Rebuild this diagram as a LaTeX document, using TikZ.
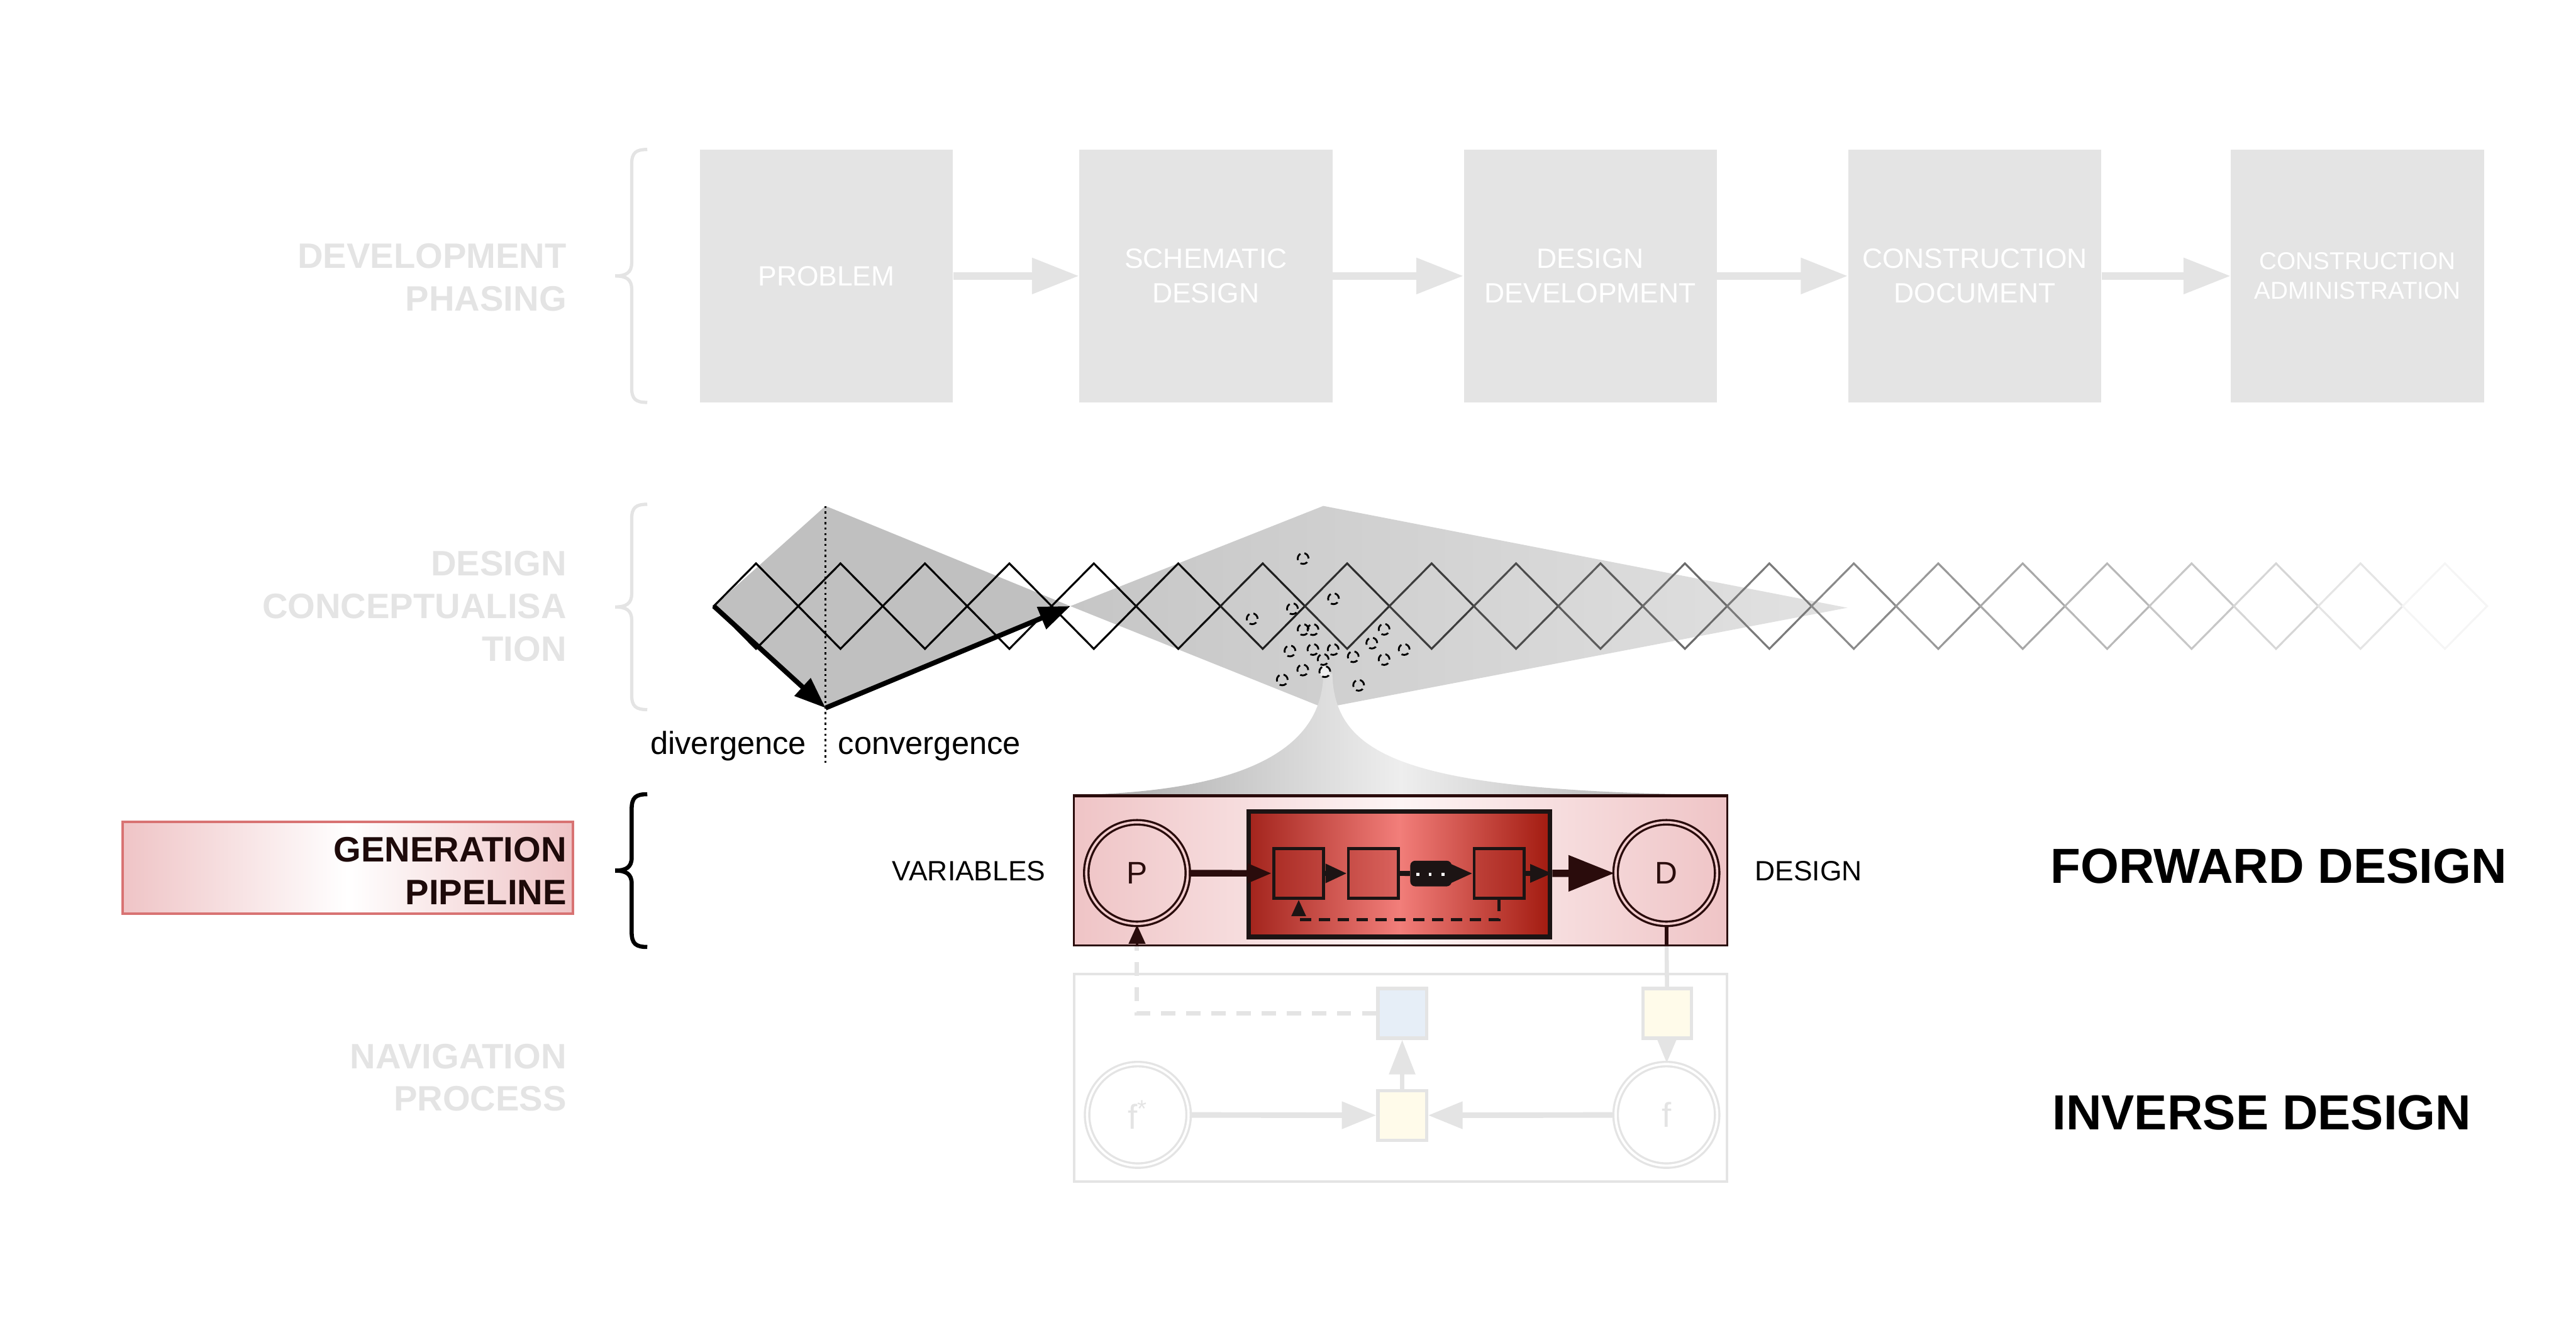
\documentclass[tikz,border=0pt]{standalone}
\usepackage{fontspec}
\setmainfont{Liberation Sans}
\usetikzlibrary{arrows.meta,calc}
\pgfdeclarelayer{bg}
\pgfsetlayers{bg,main}
\definecolor{faint}{HTML}{E4E4E4}
\definecolor{dk}{HTML}{2A0C0C}
\definecolor{pinkE}{HTML}{EFC4C6}
\definecolor{pinkM}{HTML}{FDF4F4}
\definecolor{lblbord}{HTML}{D87373}
\definecolor{redL}{HTML}{A3241C}
\definecolor{redM}{HTML}{F27E7A}
\definecolor{redR}{HTML}{A21B10}
\definecolor{yel}{HTML}{FFFBEA}
\definecolor{blu}{HTML}{E6EEF7}
\definecolor{kiteA}{HTML}{C0C0C0}
\definecolor{kiteL}{HTML}{C6C6C6}
\definecolor{kiteR}{HTML}{E2E2E2}
\definecolor{funE}{HTML}{A6A6A6}
\definecolor{funM}{HTML}{EEEEEE}
\definecolor{pillc}{HTML}{1C1414}
\definecolor{ringgap}{HTML}{F2CDCE}
\definecolor{labdark}{HTML}{1E0A0A}
\newcommand{\mybrace}[3]{%
  \draw[#1] (394,#2) .. controls (387,#2) and (384.5,#2+2) .. (384.5,#2+9)
  -- (384.5,{(#2+#3)/2-8}) .. controls (384.5,{(#2+#3)/2-2}) and (381,{(#2+#3)/2}) .. (374.5,{(#2+#3)/2})
  .. controls (381,{(#2+#3)/2}) and (384.5,{(#2+#3)/2+2}) .. (384.5,{(#2+#3)/2+8})
  -- (384.5,#3-9) .. controls (384.5,#3-2) and (387,#3) .. (394,#3);
}
\tikzset{
  phasebox/.style={rectangle, fill=faint, minimum width=154pt, minimum height=154pt, inner sep=0pt,
    text=white, align=center, font=\fontsize{17}{21}\selectfont},
  phasearrow/.style={draw=faint, line width=4.7pt, -{Triangle[length=28.7pt,width=21pt]}},
  rowlab/.style={anchor=east, align=right, inner sep=0pt, font=\bfseries\fontsize{21.5}{26}\selectfont},
  diam/.style={line width=1.2pt, line join=miter},
  smallc/.style={draw=black, line width=1.1pt, dash pattern=on 4.4pt off 2.5pt},
  bigarrow/.style={line width=3pt, -{Triangle[length=19pt,width=14pt]}},
  ring/.style={circle, minimum size=61.8pt, inner sep=0pt, line width=1.3pt, double distance=1.4pt},
  sqbox/.style={rectangle, minimum width=30.5pt, minimum height=30.3pt, inner sep=0pt, line width=1.8pt, draw=pillc, fill=redL, fill opacity=0.3, text opacity=1},
  navsq/.style={rectangle, minimum width=29.5pt, minimum height=30.3pt, inner sep=0pt, line width=2pt, draw=faint},
  plain/.style={inner sep=0pt},
}
\begin{document}
\begin{tikzpicture}[x=1pt,y=-1pt]
\useasboundingbox (0,0) rectangle (1568,802);

% ---------- row 1: development phasing ----------
\node[rowlab, text=faint] (r1) at (345,169) {DEVELOPMENT\\PHASING};
\mybrace{faint, line width=2pt}{91}{245}
\node[phasebox] (p1) at (503,168) {PROBLEM};
\node[phasebox] (p2) at (734,168) {SCHEMATIC\\DESIGN};
\node[phasebox] (p3) at (968,168) {DESIGN\\DEVELOPMENT};
\node[phasebox] (p4) at (1202,168) {CONSTRUCTION\\DOCUMENT};
\node[phasebox, font=\fontsize{14.8}{18}\selectfont] (p5) at (1435,168) {CONSTRUCTION\\ADMINISTRATION};
\draw[phasearrow] (p1) -- (p2);
\draw[phasearrow] (p2) -- (p3);
\draw[phasearrow] (p3) -- (p4);
\draw[phasearrow] (p4) -- (p5);

% ---------- row 2: design conceptualisation ----------
\node[rowlab, text=faint] (r2) at (345,369) {DESIGN\\CONCEPTUALISA\\TION};
\mybrace{faint, line width=2pt}{307}{432}
\coordinate (kL) at (434.5,369);
\coordinate (kT) at (502.5,308);
\coordinate (kB) at (502.5,431);
\coordinate (kR) at (651.5,369);
\coordinate (bT) at (805.5,308);
\coordinate (bR) at (1124.5,370);
\coordinate (bB) at (806,431);
\fill[kiteA] (kL) -- (kT) -- (kR) -- (kB) -- cycle;
\shade[left color=kiteL, right color=kiteR] (kR) -- (bT) -- (bR) -- (bB) -- cycle;
% funnel
\shade[left color=funE, right color=funE, middle color=funM]
  (805.5,410) .. controls (805,455) and (760,482) .. (653,484)
  -- (1052,484) .. controls (860,482) and (812,462) .. (811,410) -- cycle;
% diamonds
\foreach \i in {0,...,20}{
  \pgfmathtruncatemacro{\sh}{\i<5 ? 100 : 100-6*(\i-4)}
  \draw[diam, draw=black!\sh] ({434.5+51.4*\i},369) -- ++(25.7,-26) -- ++(25.7,26) -- ++(-25.7,26) -- cycle;
}
% scattered candidates
\foreach \cx/\cy in {793.2/340.0, 811.7/364.5, 786.7/370.6, 762.2/376.7, 793.2/383.3, 799.2/383.3,
  842.5/383.1, 835.0/391.5, 785.2/396.3, 799.2/395.4, 811.5/395.4, 854.7/395.4, 823.7/399.8,
  805.4/401.5, 842.5/401.5, 793.0/407.9, 780.5/413.9, 827.0/417.2}
  \draw[smallc] (\cx,\cy) circle[radius=3.3pt];
\draw[smallc, fill=funM] (806.4,408.9) circle[radius=3.3pt];
% divergence / convergence
\coordinate (dT) at (502.5,308);
\coordinate (dB) at (502.5,466);
\draw[line width=1.1pt, dash pattern=on 1.3pt off 2pt] (dT) -- (dB);
\draw[bigarrow] (kL) -- (kB);
\draw[bigarrow] (kB) -- (kR);
\node[plain, anchor=base east, font=\fontsize{19.4}{23}\selectfont] (dv) at (491,459) {divergence};
\node[plain, anchor=base west, font=\fontsize{19.4}{23}\selectfont] (cv) at (510,459) {convergence};

% ---------- row 4: navigation process ----------
\node[rowlab, text=faint] (r4) at (345,656) {NAVIGATION\\PROCESS};
\node[draw=faint, line width=1.5pt, minimum width=397.5pt, minimum height=126.4pt, inner sep=0pt] (nb) at (852.5,656.2) {};
\node[ring, draw=faint, double=white, text=faint, font=\fontsize{21}{25}\selectfont] (fst) at (692.6,678.7) {f\textsuperscript{*}};
\node[ring, draw=faint, double=white, text=faint, font=\fontsize{21}{25}\selectfont] (ff) at (1014.3,678.7) {f};
\node[navsq, fill=yel] (ym) at (853.5,679) {};
\node[navsq, fill=blu] (bl) at (853.5,616.9) {};
\node[navsq, fill=yel] (yr) at (1014.7,616.9) {};
\draw[faint, line width=3.4pt, -{Triangle[length=21pt,width=16pt]}] (fst) -- (ym);
\draw[faint, line width=3.4pt, -{Triangle[length=21pt,width=16pt]}] (ff) -- (ym);
\draw[faint, line width=2.5pt, -{Triangle[length=21pt,width=15.6pt]}] (ym) -- (bl);
\draw[faint, line width=2pt, -{Triangle[length=14pt,width=11pt]}] (yr) -- (ff);

% ---------- row 3: generation pipeline ----------
\node[shade, left color=pinkE, right color=pinkE, middle color=white, draw=lblbord, line width=1.4pt,
  minimum width=274pt, minimum height=56pt, inner sep=0pt] (lb) at (211.65,528.25) {};
\node[rowlab, text=labdark] (r3) at (345,530) {GENERATION\\PIPELINE};
\mybrace{black, line width=2.5pt}{483.5}{576.5}

\node[shade, left color=pinkE, right color=pinkE, middle color=pinkM, draw=dk, line width=1.2pt,
  minimum width=398pt, minimum height=91pt, inner sep=0pt] (gb) at (852.5,530.2) {};
\draw[dk, line width=1.6pt] (gb.north west) -- (gb.north east);
\node[shade, left color=redL, right color=redR, middle color=redM, draw=pillc, line width=2.8pt,
  minimum width=183.5pt, minimum height=76.4pt, inner sep=0pt] (rb) at (851.75,532.2) {};

\node[ring, draw=dk, double=ringgap, text=dk, font=\fontsize{19}{22}\selectfont] (P) at (692.1,531.5) {P};
\node[ring, draw=dk, double=ringgap, text=dk, font=\fontsize{19}{22}\selectfont] (D) at (1014.3,531.5) {D};
\node[sqbox] (sq1) at (790.5,531.7) {};
\node[sqbox] (sq2) at (836,531.7) {};
\node[sqbox] (sq3) at (912.5,531.7) {};
\node[fill=pillc, rounded corners=3pt, minimum width=25.2pt, minimum height=15.6pt, inner sep=0pt] (pill) at (871,531.8) {};
\foreach \dx in {863,870.5,878.2}
  \fill[white] (\dx-0.95,531.5) rectangle ++(1.9,1.9);

\draw[dk, line width=4pt, -{Triangle[length=15pt,width=11pt]}] (P) -- (sq1);
\draw[pillc, line width=3pt, -{Triangle[length=13pt,width=11pt]}] (sq1) -- (sq2);
\draw[pillc, line width=3pt] (sq2) -- (pill);
\draw[pillc, line width=3pt, -{Triangle[length=13pt,width=10.5pt]}] (pill) -- (sq3);
\draw[pillc, line width=3pt, -{Triangle[length=13.5pt,width=10.5pt]}] (sq3) -- (sq3 -| rb.east);
\draw[dk, line width=4.4pt, -{Triangle[length=28pt,width=21pt]}] (sq3 -| rb.east) -- (D);
\draw[pillc, line width=1.9pt, dash pattern=on 6.8pt off 4.7pt, -{Triangle[length=10pt,width=8.5pt]}]
  (sq3.south) -- ++(0,12) -| (sq1.south);

% connectors from the navigation process (behind the pipeline box)
\begin{pgfonlayer}{bg}
\draw[faint, line width=2.7pt, dash pattern=on 8.5pt off 6.8pt] (bl.west) -| (P.south);
\draw[faint, line width=2.5pt] (D.south) -- (yr.north);
\end{pgfonlayer}
\draw[dk, line width=1.5pt, -{Triangle[length=11.5pt,width=10pt]}] (P.south |- gb.south) -- (P.south);
\draw[dk, line width=2.2pt] (D.south) -- (D.south |- gb.south);

% side labels
\node[plain, anchor=base west, font=\fontsize{17}{20}\selectfont] (var) at (543,536) {VARIABLES};
\node[plain, anchor=base west, font=\fontsize{17}{20}\selectfont] (des) at (1068,536) {DESIGN};
\node[plain, anchor=base west, font=\bfseries\fontsize{30}{36}\selectfont] (fwd) at (1248,537.7) {FORWARD DESIGN};
\node[plain, anchor=base west, font=\bfseries\fontsize{30}{36}\selectfont] (inv) at (1249,687.7) {INVERSE DESIGN};
\end{tikzpicture}
\end{document}
